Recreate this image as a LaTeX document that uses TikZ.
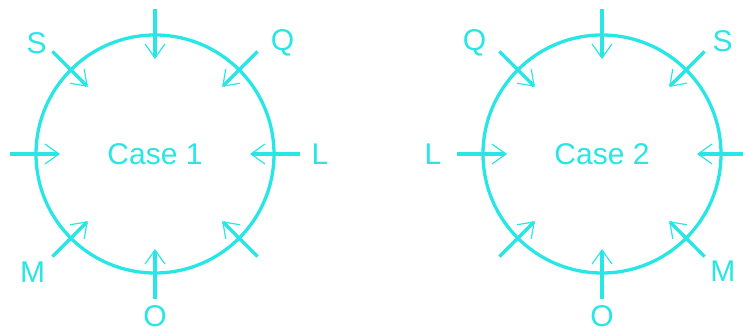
\documentclass[tikz,border=0pt]{standalone}
\usepackage{fontspec}
\setmainfont{Liberation Sans}
\usetikzlibrary{arrows.meta,calc}
\definecolor{aqua}{RGB}{40,230,230}
\tikzset{ring/.style={draw=aqua, line width=3.3pt, circle, minimum size=238pt, inner sep=0pt, text=aqua, font=\fontsize{30}{30}\selectfont},
  inarrow/.style={draw=aqua, line width=3.3pt, -{Straight Barb[length=14pt,width=20pt,line width=1.2pt]}},
  lbl/.style={text=aqua, inner sep=0pt, font=\fontsize{30}{30}\selectfont}}

\begin{document}
\begin{tikzpicture}[x=1pt,y=1pt]
\useasboundingbox (0,0) rectangle (743,334);
\node[ring] (c1) at (155,180) {Case 1};
\node[ring] (c2) at (602,180) {Case 2};
\foreach \c in {c1,c2} \foreach \a in {0,45,...,315} {
  \coordinate (\c o\a) at ($(\c.center)+(\a:145)$);
  \coordinate (\c i\a) at ($(\c.center)+(\a:95)$);
  \draw[inarrow] (\c o\a) -- (\c i\a);
}
% labels, case 1
\node[lbl] (s1) at ($(c1.center)+(137:162)$) {S}; \node[lbl] (q1) at ($(c1.center)+(41:169)$) {Q};
\node[lbl] (l1) at ($(c1.center)+(0:165)$) {L}; \node[lbl] (m1) at ($(c1.center)+(224:170)$) {M};
\node[lbl] (o1) at ($(c1.center)+(270:162)$) {O};
% labels, case 2
\node[lbl] (q2) at ($(c2.center)+(139:169)$) {Q}; \node[lbl] (s2) at ($(c2.center)+(43:165)$) {S};
\node[lbl] (l2) at ($(c2.center)+(180:169)$) {L}; \node[lbl] (m2) at ($(c2.center)+(316:168)$) {M};
\node[lbl] (o2) at ($(c2.center)+(270:162)$) {O};
\end{tikzpicture}
\end{document}
